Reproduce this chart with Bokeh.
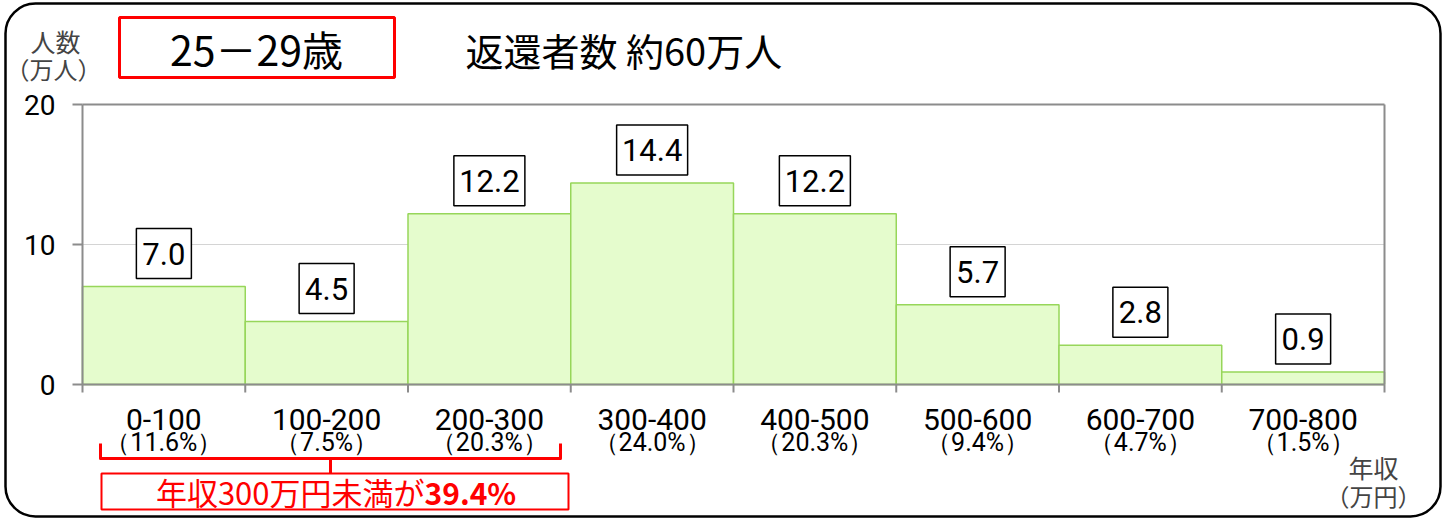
from bokeh.plotting import figure
from bokeh.models import Label, BoxAnnotation, FixedTicker, Range1d
from bokeh.core.properties import value
from bokeh.embed import file_html
from bokeh.resources import INLINE

# ---------------- data ----------------
bin_lower = [0, 100, 200, 300, 400, 500, 600, 700]
bin_upper = [100, 200, 300, 400, 500, 600, 700, 800]
categories = ["0-100", "100-200", "200-300", "300-400", "400-500", "500-600", "600-700", "700-800"]
shares = ["（11.6%）", "（7.5%）", "（20.3%）", "（24.0%）", "（20.3%）", "（9.4%）", "（4.7%）", "（1.5%）"]
people = [7.0, 4.5, 12.2, 14.4, 12.2, 5.7, 2.8, 0.9]
y_ticks = [0, 10, 20]
age_group = "25－29歳"
title_text = "返還者数 約60万人"
y_title = ["人数", "（万人）"]
x_title = ["年収", "（万円）"]
note_text = "年収300万円未満が"
note_value = "39.4%"

# ---------------- layout ----------------
W, H = 1446, 518
FL, FR, FT, FB = 82, 1384, 104, 384          # plot-area edges in canvas pixels
XMIN, XMAX = bin_lower[0], bin_upper[-1]
YMIN, YMAX = y_ticks[0], y_ticks[-1]
DX = (XMAX - XMIN) / (FR - FL)               # data units per pixel
DY = (YMAX - YMIN) / (FB - FT)


def X(px):
    return XMIN + (px - FL) * DX


def Y(py):
    return YMIN + (FB - py) * DY


JP = "Noto Sans CJK JP"
NUM = "Roboto"
GREY = "#8c8c8c"
RED = "#FF0000"

p = figure(width=W, height=H, output_backend="svg", toolbar_location=None,
           x_range=Range1d(X(0), X(W)), y_range=Range1d(Y(H), Y(0)),
           min_border=0, min_border_left=0, min_border_right=0,
           min_border_top=0, min_border_bottom=0)
p.background_fill_color = "white"
p.border_fill_color = "white"
p.outline_line_color = None
p.xgrid.visible = False
p.ygrid.visible = False

edges = bin_lower + [bin_upper[-1]]
centers = [(lo + hi) // 2 for lo, hi in zip(bin_lower, bin_upper)]
n = len(centers)

# light inner gridlines
inner = y_ticks[1:-1]
p.segment(x0=[XMIN] * len(inner), y0=inner, x1=[XMAX] * len(inner), y1=inner,
          line_color="#d4d4d4", line_width=1)

p.quad(left=bin_lower, right=bin_upper, bottom=YMIN, top=people,
       fill_color="#E5FCCD", line_color="#97D65A", line_width=1.5)

# plot-area border (axis lines, top and right edges) and class boundary ticks
p.segment(x0=[XMIN, XMIN, XMIN, XMAX], y0=[YMIN, YMIN, YMAX, YMIN],
          x1=[XMAX, XMIN, XMAX, XMAX], y1=[YMIN, YMAX, YMAX, YMAX],
          line_color=GREY, line_width=2)
p.segment(x0=edges, y0=[YMIN] * len(edges), x1=edges, y1=[YMIN - 8 * DY] * len(edges),
          line_color=GREY, line_width=2)

# axes (ticks and labels) at the plot-area edges
ya = p.yaxis[0]
ya.fixed_location = XMIN
ya.bounds = (YMIN, YMAX)
ya.ticker = FixedTicker(ticks=y_ticks)
ya.axis_line_color = None
ya.major_tick_line_color = GREY
ya.major_tick_line_width = 2
ya.major_tick_out = 10
ya.major_tick_in = 0
ya.minor_tick_out = 0
ya.minor_tick_line_color = None
ya.major_label_text_font = NUM
ya.major_label_text_font_size = "28px"
ya.major_label_text_color = "black"
ya.major_label_standoff = 17

xa = p.xaxis[0]
xa.fixed_location = YMIN
xa.bounds = (XMIN, XMAX)
xa.ticker = FixedTicker(ticks=centers)
xa.major_label_overrides = {c: t for c, t in zip(centers, categories)}
xa.axis_line_color = None
xa.major_tick_line_color = None
xa.major_tick_out = 0
xa.major_tick_in = 0
xa.minor_tick_out = 0
xa.minor_tick_line_color = None
xa.major_label_text_font = NUM
xa.major_label_text_font_size = "30px"
xa.major_label_text_color = "black"
xa.major_label_standoff = 24

# value boxes above bars
val_text = [f"{v:.1f}" for v in people]
BOX_H, GAP = 50, 8
box_y = [v + (GAP + BOX_H / 2) * DY for v in people]
box_w = [16 * len(t) + 7 for t in val_text]
p.rect(x=centers, y=box_y, width=box_w, height=BOX_H, width_units="screen",
       height_units="screen", fill_color="white", line_color="black", line_width=1.5)
p.text(x=centers, y=box_y, text=val_text, text_align="center", text_baseline="middle",
       text_font=value(NUM), text_font_size="31px", text_color="black")

# shares under the class labels
p.text(x=centers, y=[Y(442)] * n, text=shares, text_align="center",
       text_baseline="middle", text_font=value(NUM), text_font_size="25px", text_color="black")

# outer rounded frame
p.add_layout(BoxAnnotation(left=X(5), right=X(1440), top=Y(3), bottom=Y(516),
                           fill_alpha=0, line_alpha=1, line_color="black", line_width=2.5,
                           border_radius=30, level="overlay"))

# age group box and title
p.add_layout(BoxAnnotation(left=X(119), right=X(394), top=Y(17), bottom=Y(77),
                           fill_alpha=0, line_alpha=1, line_color=RED, line_width=3))
p.add_layout(Label(x=X(256), y=Y(47), text=age_group, text_align="center",
                   text_baseline="middle", text_font=JP, text_font_size="41px",
                   text_color="black"))
p.add_layout(Label(x=X(465), y=Y(49), text=title_text, text_align="left",
                   text_baseline="middle", text_font=JP, text_font_size="38px",
                   text_color="black"))

# axis titles
p.add_layout(Label(x=X(55), y=Y(40), text=y_title[0], text_align="center",
                   text_baseline="middle", text_font=JP, text_font_size="25px"))
p.add_layout(Label(x=X(53), y=Y(68), text=y_title[1], text_align="center",
                   text_baseline="middle", text_font=JP, text_font_size="24px"))
p.add_layout(Label(x=X(1373), y=Y(466), text=x_title[0], text_align="center",
                   text_baseline="middle", text_font=JP, text_font_size="25px"))
p.add_layout(Label(x=X(1373), y=Y(495), text=x_title[1], text_align="center",
                   text_baseline="middle", text_font=JP, text_font_size="24px"))

# bracket under the first three classes
bx0, bx1, bxm = X(100), X(560), X(330)
by_top, by_mid, by_bot = Y(443), Y(458), Y(473)
p.multi_line(xs=[[bx0, bx0, bx1, bx1], [bxm, bxm]],
             ys=[[by_top, by_mid, by_mid, by_top], [by_mid, by_bot]],
             line_color=RED, line_width=3, line_join="round")

# note box
p.add_layout(BoxAnnotation(left=X(101), right=X(568), top=Y(473), bottom=Y(509),
                           fill_alpha=0, line_alpha=1, line_color=RED, line_width=2))
p.add_layout(Label(x=X(424), y=Y(491), text=note_text, text_align="right",
                   text_baseline="middle", text_font=JP, text_font_size="31px",
                   text_color=RED))
p.add_layout(Label(x=X(424), y=Y(491), text=note_value, text_align="left",
                   text_baseline="middle", text_font=JP, text_font_size="30px",
                   text_font_style="bold", text_color=RED))

open("out.html", "w").write(file_html(p, INLINE))
